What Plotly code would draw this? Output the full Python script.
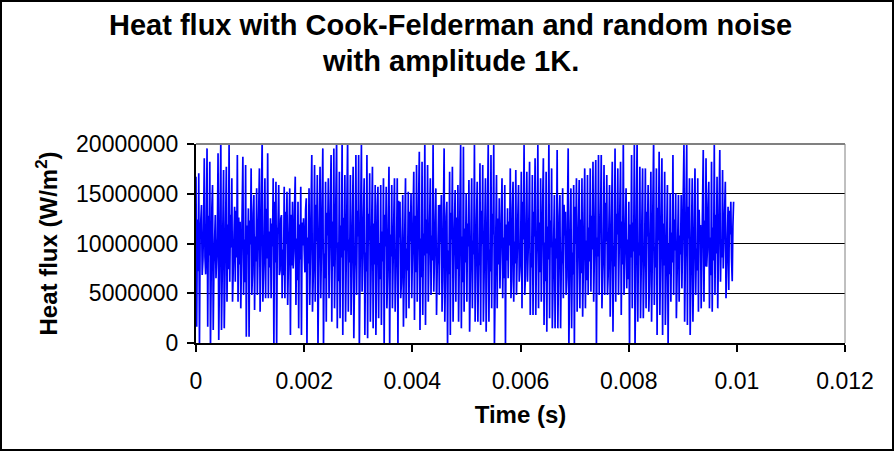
import plotly.graph_objects as go

# Local high / low excursions of the heat flux (MW/m^2), left to right
peak_pairs_MW = [
    16.72, 1.64, 17.05, -0.5, 13.87, 6.83, 18.56, 8.68, 19.56, 1.64, 18.22, -0.5,
    15.88, 1.31, 12.86, 6.50, 19.06, 0.30, 20.5, 1.31, 17.39, 1.47, 17.72, 4.15,
    19.9, 6.16, 16.55, 4.15, 13.70, 6.16, 18.89, 4.15, 12.19, 3.48, 18.73, 4.82,
    17.89, 0.64, 13.53, 0.64, 17.55, 4.82, 14.87, 3.32, 15.54, 4.82, 17.55, 3.15,
    20.5, 4.15, 16.55, 4.49, 19.06, 4.49, 12.53, 4.49, 16.55, -0.5, 16.21, -0.5,
    15.88, 6.83, 12.86, 4.49,
    15.71, 4.49, 15.21, 3.82, 15.54, 0.80, 14.20, 7.50, 16.72, 3.82, 14.20, 1.47,
    15.71, 0.80, 12.53, 9.35, 14.54, -0.5, 15.54, 3.82, 18.89, 3.15, 17.89, 4.15,
    16.88, -0.5, 17.72, 4.49, 19.56, -0.5, 16.21, 2.14, 16.55, 4.49, 18.89, 2.14,
    19.56, 3.48, 20.5, 1.47, 17.22, 2.48, 20.5, 0.80, 16.88, 2.14, 20.5, 3.15,
    16.88, 2.81, 17.72, 0.47, 18.89, 4.82, 18.89, -0.5, 19.9, 5.16, 16.55, 0.80,
    18.89, 0.47, 17.05, 2.14, 17.72, 1.47, 15.88, 0.80,
    15.71, 2.48, 15.88, 1.81, 16.55, -0.5, 15.71, 3.48, 17.72, -0.5, 15.88, 3.48,
    16.55, 3.15, 16.55, -0.5, 14.20, 4.49, 14.87, 1.64, 16.55, 2.48, 15.21, 3.48,
    15.04, 4.49, 17.22, 2.31, 17.89, 4.15, 19.23, 1.31, 18.22, 2.81, 20.5, 1.81,
    17.89, 4.15, 16.55, 4.82, 19.9, 5.16, 15.54, 2.81, 13.87, 4.82, 14.87, 3.15,
    19.56, 2.14, 14.20, -0.5, 17.22, 0.80, 17.72, 2.14, 15.38, 4.15, 15.88, 2.14,
    19.9, 1.47, 19.73, 3.15, 15.04, 4.15, 16.38, 1.14,
    16.55, 3.48, 19.9, 2.14, 16.21, 2.14, 18.06, 1.81, 17.89, 2.14, 16.55, 1.14,
    19.9, 2.14, 18.89, 3.48, 19.9, -0.5, 16.88, 3.48, 14.54, 5.49, 16.55, 4.49,
    15.88, -0.5, 13.53, 6.50, 17.55, 4.49, 16.21, 4.15, 17.39, 4.82, 15.88, 6.16,
    17.22, 3.48, 19.9, 4.82, 17.22, 6.16, 18.22, 2.81, 16.88, 2.81, 18.56, 2.81,
    19.9, 3.48, 16.55, 4.15, 18.56, 1.81, 17.22, 1.14, 20.5, 2.48, 17.55, 1.47,
    14.87, 1.47, 19.4, 1.47,
    14.87, 1.47, 15.54, 4.49, 13.20, 4.82, 19.56, -0.5, 15.54, 1.47, 15.88, -0.5,
    16.55, 3.15, 16.38, 3.48, 16.55, 2.65, 17.55, 3.48, 16.88, 4.82, 17.55, 5.16,
    18.22, 4.15, 18.39, -0.5, 18.89, 4.82, 18.89, 3.48, 17.89, 4.82, 16.88, 4.82,
    15.88, 2.65, 18.22, 1.14, 19.56, 4.15, 17.55, 4.82, 18.22, 2.81, 20.5, 4.82,
    15.54, 5.49, 14.20, -0.5, 18.89, 3.48, 19.9, -0.5, 20.5, 2.14, 17.72, 2.48,
    17.55, 2.48, 17.55, 3.48, 15.88, 3.15, 17.22, 2.14,
    20.5, 3.82, 17.55, 0.80, 19.23, 2.81, 18.56, 0.80, 17.22, 1.81, 15.88, -0.5,
    15.04, 4.15, 18.89, 4.82, 15.04, 2.48, 14.87, 4.15, 14.87, 5.49, 19.9, 2.14,
    19.9, 1.81, 16.55, 0.80, 16.55, 2.14, 17.55, 4.82, 16.55, 3.15, 11.86, 3.48,
    19.4, 4.15, 18.56, 7.67, 16.21, 3.48, 18.22, 3.15, 19.9, 4.82, 16.72, 3.48,
    19.4, 6.16, 17.39, 7.50, 16.21, 4.49, 13.70, 5.33, 14.20, 8.51,
]
# Samples of the dense central band (MW/m^2), estimated, interleaved with the peaks
core_MW = [
    12.4, 7.2, 10.9, 13.1, 8.3, 11.6, 6.9, 10.2, 12.8, 8.8, 9.5, 13.6, 7.7, 11.1, 9.8,
    10.6, 6.4, 12.2, 9.1, 14.0, 8.0, 10.8, 11.9, 7.4, 12.9, 9.6, 6.7, 11.4, 13.3, 8.6,
    12.6, 7.9, 9.3, 13.8, 10.4, 6.1, 11.8, 8.9, 12.3, 9.9, 7.0, 13.0, 10.7, 8.2, 10.1,
    11.5, 9.0, 12.7, 6.6, 10.3, 13.5, 8.5, 11.2, 7.6, 12.0, 9.7, 14.2, 8.1, 10.9, 11.7,
    7.3, 12.5, 9.4, 6.8, 13.2, 10.0, 8.7, 11.3, 12.9, 7.8, 9.2, 13.7, 10.5, 6.3, 11.9,
    8.4, 12.1, 9.8, 7.1, 13.4, 10.6, 8.0, 11.0, 12.4, 6.9, 9.5, 13.9, 10.2, 7.5, 11.6,
    8.8, 12.8, 9.0, 6.5, 13.1, 10.8, 8.3, 11.4, 12.2, 7.7, 9.6, 14.1, 10.1, 6.2, 11.8,
    8.6, 12.6, 9.3, 7.4, 13.6, 10.4, 8.1, 11.1, 12.7, 7.0, 9.9, 13.3, 10.7, 6.7, 11.5,
    8.9, 12.3, 9.1, 7.2, 13.0, 10.3, 8.5, 11.7, 12.0, 7.9, 9.4, 13.8, 10.0, 6.4, 11.2,
    8.2, 12.9, 9.7, 6.8, 13.5, 10.9, 8.7, 11.3, 12.5, 7.6, 9.2, 14.3, 10.6, 6.0, 11.9,
    8.0, 12.2, 9.5, 7.3, 13.2, 10.2, 8.4, 11.6, 12.8, 7.1, 9.8, 13.7, 10.5, 6.6, 11.0,
    8.8, 12.4, 9.0, 7.5, 13.4, 10.8, 8.3, 11.4, 12.1, 7.8, 9.6, 13.9, 10.1, 6.3, 11.8,
    8.5, 12.7, 9.3, 6.9, 13.1, 10.4, 8.6, 11.2, 12.6, 7.4, 9.9, 14.0, 10.7, 6.1, 11.5,
    8.1, 12.0, 9.7, 7.0, 13.6, 10.3, 8.9, 11.7, 12.3, 7.7, 9.1, 13.3, 10.0, 6.7, 11.3,
    8.7, 12.9, 9.4, 7.2, 13.0, 10.9, 8.2, 11.1, 12.5, 7.9, 9.5, 13.8, 10.6, 6.5, 11.9,
    8.3, 12.2, 9.8, 6.4, 13.5, 10.2, 8.0, 11.6, 12.8, 7.3, 9.2, 14.2, 10.4, 6.8, 11.0,
    8.6, 12.6, 9.0, 7.6, 13.2, 10.7, 8.8, 11.4, 12.1, 7.1, 9.7, 13.6, 10.1, 6.2, 11.7,
    8.4, 12.3, 9.6, 7.4, 13.4, 10.5, 8.5, 11.8, 12.7, 7.8, 9.3, 13.9, 10.8, 6.6, 11.2,
    8.9, 12.0, 9.1, 6.9, 13.7, 10.0, 8.1, 11.5, 12.4, 7.0, 9.9, 13.1, 10.3, 6.3, 11.6,
    8.2, 12.8, 9.4, 7.5, 13.3, 10.6, 8.7, 11.0, 12.9, 7.2, 9.5, 14.1, 10.2, 6.7, 11.3,
    8.0, 12.5, 9.8, 7.7, 13.0, 10.9, 8.3, 11.7, 12.2, 7.9, 9.0, 13.5, 10.4, 6.4, 11.9,
    8.6, 12.1, 9.2, 7.1, 13.8, 10.1, 8.8, 11.2, 12.6, 7.3, 9.6, 13.2, 10.7, 6.1, 11.4,
    8.5, 12.7, 9.7, 7.6, 13.6, 10.3, 8.4, 11.9, 12.0, 7.8, 9.1, 14.0, 10.0, 6.9, 11.1,
    8.1, 12.4, 9.3, 7.0, 13.1, 10.8, 8.9, 11.5, 12.8, 7.4, 9.9, 13.7, 10.5, 6.5, 11.8,
    8.7, 12.2, 9.5, 7.3, 13.4, 10.2, 8.2, 11.3, 12.3, 7.7, 9.4, 13.9, 10.6, 6.8, 11.6,
    8.3, 12.9, 9.0, 7.5, 13.2, 10.4, 8.6, 11.1, 12.5, 7.2, 9.8, 13.3, 10.9, 6.2, 11.7,
]
last_value_MW = 14.20
t_end = 0.00994  # time of last sample (s)

x_ticks = [0, 0.002, 0.004, 0.006, 0.008, 0.01, 0.012]
x_tick_text = ["0", "0.002", "0.004", "0.006", "0.008", "0.01", "0.012"]
y_ticks = [0, 5000000, 10000000, 15000000, 20000000]
y_tick_text = ["0", "5000000", "10000000", "15000000", "20000000"]

# assemble the sampled series: peak, trough, core, core, ...
series_MW = []
n_pairs = len(peak_pairs_MW) // 2
for i in range(n_pairs):
    series_MW += [peak_pairs_MW[2 * i], peak_pairs_MW[2 * i + 1],
                  core_MW[2 * i], core_MW[2 * i + 1]]
series_MW.append(last_value_MW)
n = len(series_MW)
time_s = [t_end * i / (n - 1) for i in range(n)]
heat_flux = [v * 1e6 for v in series_MW]

W, H = 894, 451
L, R, T, B = 196, 845, 144, 343
pw, ph = R - L, B - T


def px(xp):
    return (xp - L) / pw


def py(yp):
    return (B - yp) / ph


font = "Liberation Sans, Arial, sans-serif"

fig = go.Figure()
fig.add_trace(go.Scatter(
    x=time_s, y=heat_flux, mode="lines",
    line=dict(color="#0000FF", width=1.7),
    showlegend=False, hoverinfo="skip",
))

fig.update_layout(
    width=W, height=H,
    margin=dict(l=L, r=W - R, t=T, b=H - B, pad=0),
    paper_bgcolor="white", plot_bgcolor="white",
    font=dict(family=font, color="black", size=23),
    xaxis=dict(
        range=[0, 0.012], tickvals=x_ticks, ticktext=x_tick_text,
        showgrid=False, zeroline=False,
        showline=True, linecolor="black", linewidth=2,
        ticks="outside", ticklen=7, tickwidth=2, tickcolor="black",
        tickfont=dict(size=23), ticklabelstandoff=9,
        title=dict(text="<b>Time (s)</b>", font=dict(size=24), standoff=14),
    ),
    yaxis=dict(
        range=[0, 2e7], tickvals=y_ticks, ticktext=y_tick_text,
        showgrid=True, gridcolor="black", gridwidth=1,
        zeroline=False,
        showline=True, linecolor="black", linewidth=2,
        ticks="outside", ticklen=7, tickwidth=2, tickcolor="black",
        tickfont=dict(size=23), ticklabelstandoff=4,
        title=dict(text="<b>Heat flux (W/m<sup>2</sup>)</b>", font=dict(size=24), standoff=12),
    ),
    annotations=[
        dict(text="<b>Heat flux with Cook-Felderman and random noise</b>",
             xref="paper", yref="paper", x=px(450), y=py(25),
             xanchor="center", yanchor="middle", showarrow=False,
             font=dict(family=font, size=29, color="black")),
        dict(text="<b>with amplitude 1K.</b>",
             xref="paper", yref="paper", x=px(450), y=py(61),
             xanchor="center", yanchor="middle", showarrow=False,
             font=dict(family=font, size=29, color="black")),
    ],
    shapes=[
        dict(type="line", xref="paper", yref="paper", x0=0, x1=1, y0=1, y1=1,
             line=dict(color="#808080", width=2)),
        dict(type="line", xref="paper", yref="paper", x0=1, x1=1, y0=0, y1=1,
             line=dict(color="#808080", width=1)),
        dict(type="rect", xref="paper", yref="paper",
             x0=px(1), x1=px(W - 1), y0=py(H - 1), y1=py(1),
             line=dict(color="black", width=2), fillcolor="rgba(0,0,0,0)"),
    ],
)

fig.write_html(
    "out.html",
    config={"displayModeBar": False},
    post_script="document.body.style.margin='0px';document.body.style.overflow='hidden';",
)
